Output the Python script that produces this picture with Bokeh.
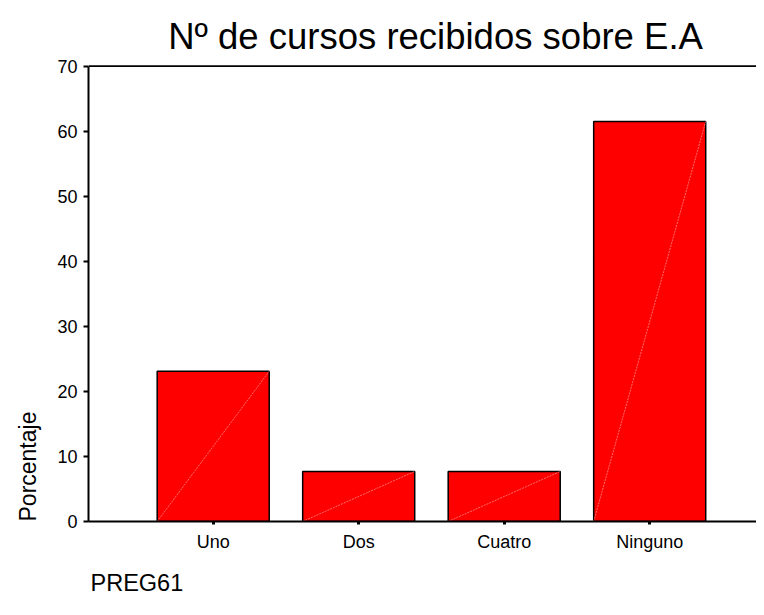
from bokeh.plotting import figure
from bokeh.models import Range1d, FixedTicker, Span, Title, Label, ColumnDataSource
from bokeh.embed import file_html
from bokeh.resources import INLINE

categories = ["Uno", "Dos", "Cuatro", "Ninguno"]
porcentaje = [23.1, 7.7, 7.7, 61.5]
y_ticks = [0, 10, 20, 30, 40, 50, 60, 70]
titulo = "Nº de cursos recibidos sobre E.A"

FONT = "Liberation Sans"
xs = list(range(len(categories)))
bar_w = 0.77
src = ColumnDataSource(dict(
    x=xs, top=porcentaje,
    x0=[x - bar_w / 2 for x in xs], x1=[x + bar_w / 2 for x in xs],
    y0=[0] * len(xs),
))

# frame runs to the top of the canvas; value axis stops at 70 (room above for the title)
Y_TOP = 80.1
p = figure(width=756, height=611, output_backend="svg", toolbar_location=None,
           x_range=Range1d(-0.857, 3.734), y_range=Range1d(0, Y_TOP),
           min_border_left=88, min_border_right=0, min_border_top=0, min_border_bottom=90,
           title=None)
p.outline_line_color = None
p.xgrid.visible = False
p.ygrid.visible = False
p.background_fill_color = "white"
p.border_fill_color = "white"

p.vbar(x="x", top="top", bottom=0, width=bar_w, source=src,
       fill_color="#ff0000", line_color="black", line_width=1.5)
p.segment(x0="x0", y0="y0", x1="x1", y1="top", source=src,
          line_color="#ff9a9a", line_width=0.7, line_dash="2 1")

p.add_layout(Span(location=y_ticks[-1], dimension="width", line_color="black", line_width=1.7))

xa = p.xaxis[0]
xa.ticker = FixedTicker(ticks=xs)
xa.major_label_overrides = {i: c for i, c in enumerate(categories)}
xa.minor_tick_line_color = None
xa.major_tick_in = 0
xa.major_tick_out = 3
xa.major_tick_line_width = 3
xa.axis_line_width = 2
xa.major_label_standoff = 7
xa.major_label_text_font = FONT
xa.major_label_text_font_size = "18px"
xa.major_label_text_color = "black"

ya = p.yaxis[0]
ya.ticker = FixedTicker(ticks=y_ticks)
ya.bounds = (y_ticks[0], y_ticks[-1])
ya.minor_tick_line_color = None
ya.major_tick_in = 0
ya.major_tick_out = 5
ya.major_tick_line_width = 2
ya.axis_line_width = 2
ya.major_label_standoff = 6
ya.major_label_text_font = FONT
ya.major_label_text_font_size = "18px"
ya.major_label_text_color = "black"

p.add_layout(Label(x=1.528, y=74.5, text=titulo, text_align="center",
                   text_baseline="alphabetic", text_font=FONT, text_font_size="36.5px",
                   text_color="black"))

tx = Title(text="PREG61", align="left", text_font=FONT, text_font_size="23.5px",
           text_font_style="normal", text_color="black", standoff=27, offset=2)
p.add_layout(tx, "below")

ty = Title(text="Porcentaje", align="left", vertical_align="top", text_font=FONT,
           text_font_size="23px", text_font_style="normal", text_color="black",
           standoff=24, offset=0)
p.add_layout(ty, "left")

open("out.html", "w").write(file_html(p, INLINE))
